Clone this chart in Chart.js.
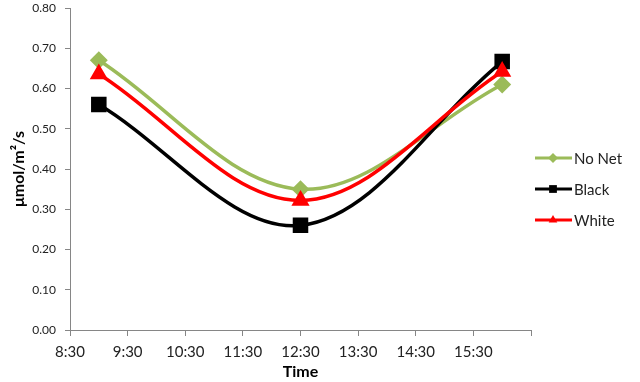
<!DOCTYPE html>
<html>
<head>
<meta charset="utf-8">
<script src="https://cdn.jsdelivr.net/npm/chart.js@4.4.0/dist/chart.umd.min.js"></script>
<style>
  body { margin: 0; background: #fff; }
</style>
</head>
<body>
<canvas id="myChart" width="640" height="382"></canvas>
<script>
// time of day in hours (9:00, 12:30, 16:00)
const times = [9.0, 12.5, 16.0];
const noNet = [0.67, 0.35, 0.61];
const black = [0.56, 0.26, 0.667];
const white = [0.636, 0.322, 0.642];
const seriesNames = ['No Net', 'Black', 'White'];

function toPoints(values) {
    return values.map((v, i) => ({ x: times[i], y: v }));
}

function fmtTime(h) {
    const hh = Math.floor(h);
    const mm = Math.round((h - hh) * 60);
    return hh + ':' + (mm < 10 ? '0' + mm : mm);
}

const legendMarkers = [
    { pointStyle: 'rectRot', radius: 5 },
    { pointStyle: 'rect', radius: 5.5 },
    { pointStyle: 'triangle', radius: 5 }
];

// legend drawn at the right, line + marker like the original
const sideLegend = {
    id: 'sideLegend',
    afterDraw(chart) {
        const ctx = chart.ctx;
        const area = chart.chartArea;
        const x0 = area.right + 4;
        const y0 = 158;
        ctx.save();
        chart.data.datasets.forEach((ds, i) => {
            const y = y0 + i * 31;
            ctx.strokeStyle = ds.borderColor;
            ctx.fillStyle = ds.borderColor;
            ctx.lineWidth = 3;
            ctx.beginPath();
            ctx.moveTo(x0, y);
            ctx.lineTo(x0 + 37, y);
            ctx.stroke();
            Chart.helpers.drawPoint(ctx, {
                pointStyle: legendMarkers[i].pointStyle,
                radius: legendMarkers[i].radius,
                rotation: 0,
                borderWidth: 0
            }, x0 + 18, y);
            ctx.fillStyle = '#222';
            ctx.font = '15px Lato';
            ctx.textAlign = 'left';
            ctx.textBaseline = 'middle';
            ctx.fillText(seriesNames[i], x0 + 39, y + 1);
        });
        ctx.restore();
    }
};

const data = {
    datasets: [{
        label: seriesNames[0],
        data: toPoints(noNet),
        borderColor: '#9BBB59',
        backgroundColor: '#9BBB59',
        pointStyle: 'rectRot',
        pointRadius: 6.5,
        borderWidth: 3.5,
        tension: 0.35,
        order: 3
    }, {
        label: seriesNames[1],
        data: toPoints(black),
        borderColor: '#000000',
        backgroundColor: '#000000',
        pointStyle: 'rect',
        pointRadius: 8.5,
        borderWidth: 3.5,
        tension: 0.35,
        order: 2
    }, {
        label: seriesNames[2],
        data: toPoints(white),
        borderColor: '#FF0000',
        backgroundColor: '#FF0000',
        pointStyle: 'triangle',
        pointRadius: 7,
        borderWidth: 3.5,
        tension: 0.35,
        order: 1
    }]
};

const axisGray = '#868686';

const config = {
    type: 'line',
    data,
    options: {
        responsive: false,
        animation: false,
        layout: { autoPadding: false, padding: { left: 0, top: 0, right: 109, bottom: 0 } },
        elements: { point: { borderWidth: 0, hoverRadius: 7 } },
        plugins: {
            legend: { display: false },
            tooltip: { enabled: false }
        },
        scales: {
            x: {
                type: 'linear',
                min: 8.5,
                max: 16.5,
                afterFit: (axis) => { axis.height = 52; },
                border: { color: axisGray, width: 1 },
                grid: { drawOnChartArea: false, drawTicks: true, tickLength: 6, tickColor: axisGray },
                ticks: {
                    stepSize: 1,
                    padding: 7,
                    maxRotation: 0,
                    autoSkip: false,
                    color: '#222',
                    font: { family: 'Lato', size: 15 },
                    callback: (v) => (v < 16.5 ? fmtTime(v) : '')
                },
                title: {
                    display: true,
                    text: 'Time',
                    color: '#000',
                    font: { family: 'Lato', size: 16, weight: 'bold' },
                    padding: { top: 0, bottom: 1 }
                }
            },
            y: {
                min: 0,
                max: 0.8,
                afterFit: (axis) => {
                    axis.width = 70;
                    axis.paddingTop = 8;
                    axis.paddingBottom = 0;
                },
                border: { color: axisGray, width: 1 },
                grid: { drawOnChartArea: false, drawTicks: true, tickLength: 5, tickColor: axisGray },
                ticks: {
                    stepSize: 0.1,
                    padding: 9,
                    color: '#222',
                    font: { family: 'Lato', size: 12 },
                    callback: (v) => v.toFixed(2)
                },
                title: {
                    display: true,
                    text: 'μmol/m²/s',
                    color: '#000',
                    font: { family: 'Lato', size: 16, weight: 'bold' },
                    padding: { top: 9, bottom: 0 }
                }
            }
        }
    },
    plugins: [sideLegend]
};

const myChart = new Chart(document.getElementById('myChart'), config);
</script>
</body>
</html>
